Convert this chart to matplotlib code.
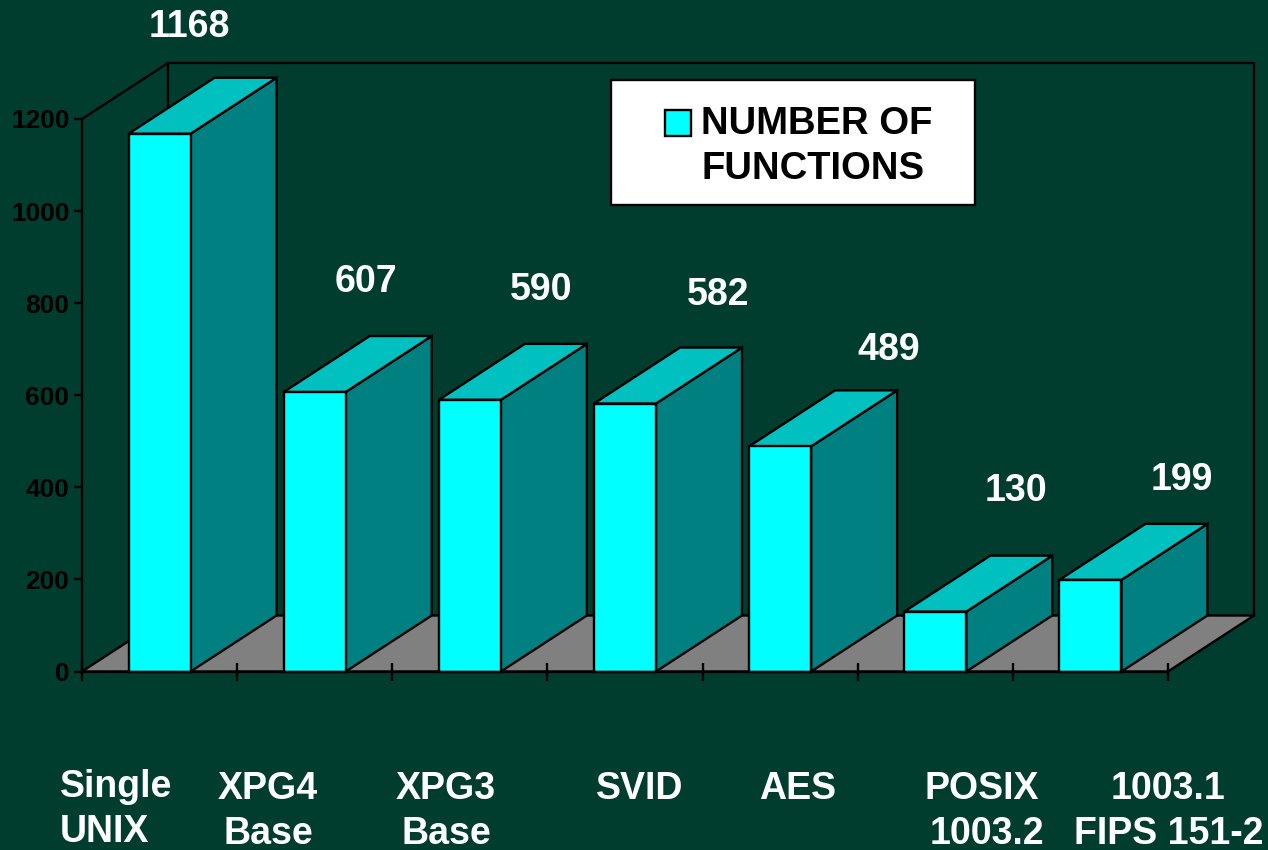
import matplotlib
matplotlib.use("Agg")
import matplotlib.pyplot as plt
from matplotlib.patches import Polygon, Rectangle

values = [1168, 607, 590, 582, 489, 130, 199]
y_ticks = [0, 200, 400, 600, 800, 1000, 1200]
category_lines = [["Single", "UNIX"], ["XPG4", "Base"], ["XPG3", "Base"], ["SVID"], ["AES"],
                  ["POSIX", "1003.2"], ["1003.1", "FIPS 151-2"]]
legend_lines = ["NUMBER OF", "FUNCTIONS"]

W, H = 1268, 850
BG = "#013D2F"
LW = 1.7
plt.rcParams["font.family"] = ["Liberation Sans", "DejaVu Sans"]
plt.rcParams["font.weight"] = "bold"

fig = plt.figure(figsize=(W / 100, H / 100), dpi=100, facecolor=BG)
ax = fig.add_axes([82 / W, 1 - 671.5 / H, (1168 - 82) / W, (671.5 - 119) / H])
ax.set_xlim(0, len(values))
ax.set_ylim(0, 1200)
ax.patch.set_visible(False)

# profundidad del "3D" en unidades de datos
dx = 86 / (1086 / 7)
dy = 56 / (552.5 / 1200)
bar_w = 62 / (1086 / 7)


def poly(pts, color, z=1):
    ax.add_patch(Polygon(pts, closed=True, facecolor=color, edgecolor="black", linewidth=LW,
                         joinstyle="miter", clip_on=False, zorder=z))


n = len(values)
# piso y paredes
poly([(0, 0), (n, 0), (n + dx, dy), (dx, dy)], "#808080")
ax.plot([0, dx, n + dx, n + dx], [1200, 1200 + dy, 1200 + dy, dy], color="black", lw=LW,
        clip_on=False, zorder=1, solid_joinstyle="miter")
ax.plot([dx, dx], [dy, 1200 + dy], color="black", lw=LW, clip_on=False, zorder=1)

# barras
for i, v in enumerate(values):
    x0 = i + 0.5 - bar_w / 2
    x1 = x0 + bar_w
    z = 2 + i * 0.01
    poly([(x1, 0), (x1 + dx, dy), (x1 + dx, v + dy), (x1, v)], "#008080", z)
    poly([(x0, v), (x1, v), (x1 + dx, v + dy), (x0 + dx, v + dy)], "#00C0C0", z)
    poly([(x0, 0), (x1, 0), (x1, v), (x0, v)], "#00FFFF", z)

for s in ["top", "right"]:
    ax.spines[s].set_visible(False)
for s in ["left", "bottom"]:
    ax.spines[s].set_linewidth(LW)
    ax.spines[s].set_zorder(3)
ax.set_yticks(y_ticks)
ax.set_xticks(range(n + 1))
ax.set_xticklabels([])
ax.tick_params(axis="y", length=6, width=LW, labelsize=19, pad=3, colors="black")
ax.tick_params(axis="x", length=12.5, width=LW, direction="inout", colors="black")


def px_text(x, y, s, size=27, color="white", ha="center"):
    fig.text(x / W, 1 - y / H, s, fontsize=size, color=color, ha=ha, va="baseline", fontweight="bold")


# etiquetas de valores
value_x = [189, 366, 541, 718, 889, 1016, 1182]
value_y = [37, 292, 300, 305, 360, 501, 490]
for v, x, y in zip(values, value_x, value_y):
    px_text(x, y, str(v))

# categorias
cat_x = [[60, 60], [268, 268], [446, 446], [640], [798], [982, 987], [1168, 1169]]
cat_y = [[797, 842], [799, 844], [799, 844], [799], [799], [799, 844], [799, 844]]
for i, lines in enumerate(category_lines):
    for s, x, y in zip(lines, cat_x[i], cat_y[i]):
        px_text(x, y, s, ha="left" if i == 0 else "center")

# leyenda
fig.add_artist(Rectangle((611 / W, 1 - 204.5 / H), 364 / W, 124.5 / H, transform=fig.transFigure,
                         facecolor="white", edgecolor="black", linewidth=LW, zorder=5))
fig.add_artist(Rectangle((665 / W, 1 - 136 / H), 26 / W, 26 / H, transform=fig.transFigure,
                         facecolor="#00FFFF", edgecolor="black", linewidth=LW, zorder=6))
for s, y in zip(legend_lines, [134, 179]):
    t = fig.text(701 / W, 1 - y / H, s, fontsize=27.5, color="black", ha="left", va="baseline",
                 fontweight="bold", zorder=7)

fig.savefig("out.png", dpi=100, facecolor=BG)
